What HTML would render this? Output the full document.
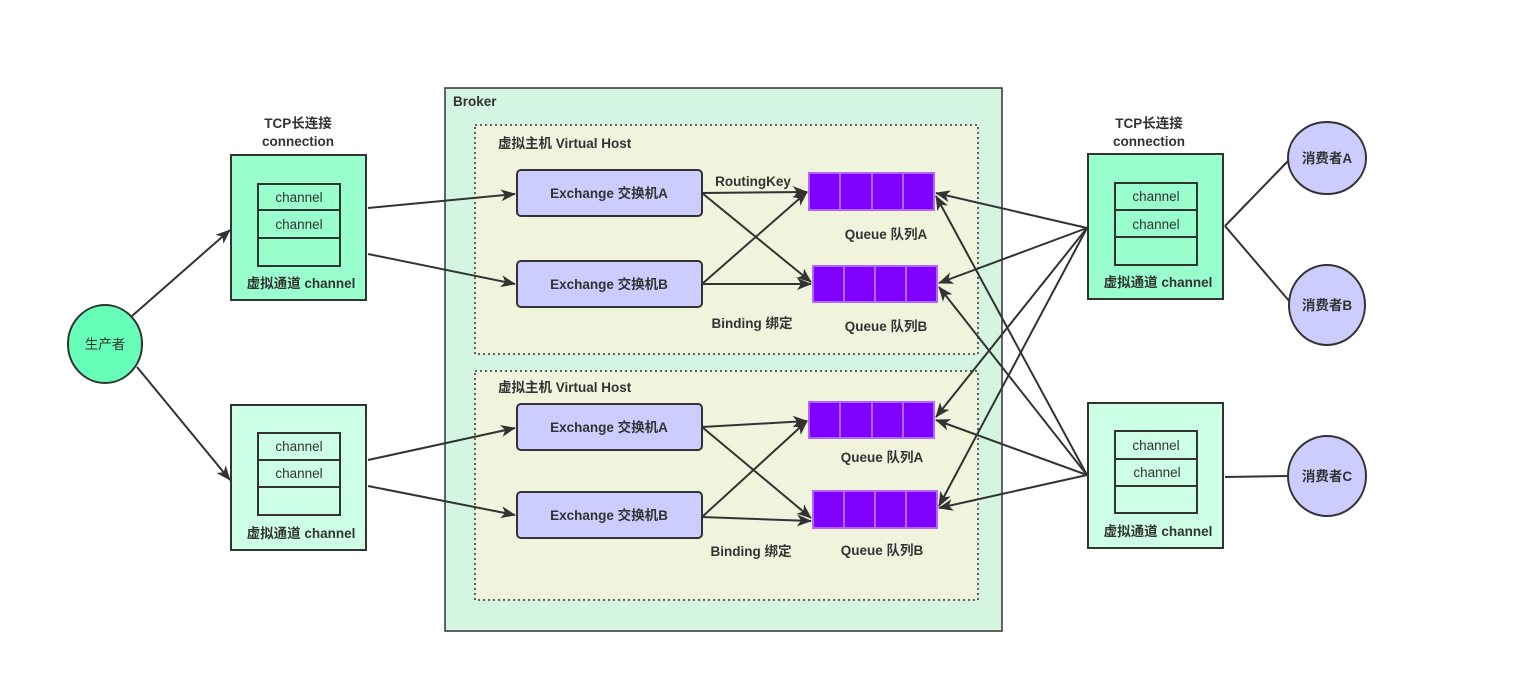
<!DOCTYPE html>
<html><head><meta charset="utf-8"><style>
html,body{margin:0;padding:0;background:#fff;}
svg text{font-family:"Liberation Sans","Noto Sans CJK SC",sans-serif;fill:#333;}
.b{font-weight:bold;font-size:13.5px;}
.n{font-size:13.5px;}
</style></head><body>
<svg width="1521" height="668" viewBox="0 0 1521 668" xmlns="http://www.w3.org/2000/svg">
<defs>
<marker id="ar" markerWidth="15" markerHeight="12" refX="14" refY="6" orient="auto" markerUnits="userSpaceOnUse">
<path d="M0,0 L15,6 L0,12 L4,6 z" fill="#333"/>
</marker>
</defs>
<rect x="445" y="88" width="557" height="543" fill="#d5f5e3" stroke="#333" stroke-width="1.5"/>
<text x="453" y="106" class="b">Broker</text>
<rect x="475" y="125" width="503" height="229" fill="#f0f4dd" stroke="#333" stroke-width="1.5" stroke-dasharray="2,3"/>
<rect x="475" y="371" width="503" height="229" fill="#f0f4dd" stroke="#333" stroke-width="1.5" stroke-dasharray="2,3"/>
<text x="498" y="148" class="b">虚拟主机 Virtual Host</text>
<text x="498" y="392" class="b">虚拟主机 Virtual Host</text>

<ellipse cx="105" cy="344" rx="37" ry="39" fill="#66ffb8" stroke="#333" stroke-width="2"/>
<text x="105" y="349" class="n" text-anchor="middle">生产者</text>
<line x1="132" y1="316" x2="230" y2="230" stroke="#333" stroke-width="2" marker-end="url(#ar)"/>
<line x1="137" y1="367" x2="230" y2="480" stroke="#333" stroke-width="2" marker-end="url(#ar)"/>

<text x="298" y="128" class="b" text-anchor="middle">TCP长连接</text>
<text x="298" y="146" class="b" text-anchor="middle">connection</text>
<rect x="231" y="155" width="135" height="145" fill="#99ffcc" stroke="#333" stroke-width="2"/>
<rect x="258" y="184" width="82" height="82" fill="#99ffcc" stroke="#333" stroke-width="2"/>
<line x1="258" y1="210" x2="340" y2="210" stroke="#333" stroke-width="2"/>
<line x1="258" y1="238" x2="340" y2="238" stroke="#333" stroke-width="2"/>
<text x="299" y="202" class="n" text-anchor="middle">channel</text>
<text x="299" y="229" class="n" text-anchor="middle">channel</text>
<text x="301" y="288" class="b" text-anchor="middle">虚拟通道 channel</text>

<rect x="231" y="405" width="135" height="145" fill="#ccffe6" stroke="#333" stroke-width="2"/>
<rect x="258" y="433" width="82" height="82" fill="#ccffe6" stroke="#333" stroke-width="2"/>
<line x1="258" y1="460" x2="340" y2="460" stroke="#333" stroke-width="2"/>
<line x1="258" y1="487" x2="340" y2="487" stroke="#333" stroke-width="2"/>
<text x="299" y="451" class="n" text-anchor="middle">channel</text>
<text x="299" y="478" class="n" text-anchor="middle">channel</text>
<text x="301" y="538" class="b" text-anchor="middle">虚拟通道 channel</text>

<g stroke="#333" stroke-width="2" fill="none">
<line x1="368" y1="208" x2="515" y2="194" marker-end="url(#ar)"/>
<line x1="368" y1="254" x2="515" y2="284" marker-end="url(#ar)"/>
<line x1="368" y1="460" x2="515" y2="428" marker-end="url(#ar)"/>
<line x1="368" y1="486" x2="515" y2="515" marker-end="url(#ar)"/>
</g>

<g fill="#ccccff" stroke="#333" stroke-width="2">
<rect x="517" y="170" width="185" height="46" rx="4"/>
<rect x="517" y="261" width="185" height="46" rx="4"/>
<rect x="517" y="404" width="185" height="46" rx="4"/>
<rect x="517" y="492" width="185" height="46" rx="4"/>
</g>
<text x="609" y="198" class="b" text-anchor="middle">Exchange 交换机A</text>
<text x="609" y="289" class="b" text-anchor="middle">Exchange 交换机B</text>
<text x="609" y="432" class="b" text-anchor="middle">Exchange 交换机A</text>
<text x="609" y="520" class="b" text-anchor="middle">Exchange 交换机B</text>

<g stroke="#333" stroke-width="2" fill="none">
<line x1="702" y1="193" x2="807" y2="192" marker-end="url(#ar)"/>
<line x1="702" y1="193" x2="811" y2="282" marker-end="url(#ar)"/>
<line x1="702" y1="284" x2="807" y2="192" marker-end="url(#ar)"/>
<line x1="702" y1="284" x2="811" y2="284" marker-end="url(#ar)"/>
<line x1="702" y1="427" x2="807" y2="421" marker-end="url(#ar)"/>
<line x1="702" y1="427" x2="811" y2="518" marker-end="url(#ar)"/>
<line x1="702" y1="517" x2="807" y2="421" marker-end="url(#ar)"/>
<line x1="702" y1="517" x2="811" y2="521" marker-end="url(#ar)"/>
</g>
<text x="753" y="186" class="b" text-anchor="middle">RoutingKey</text>
<text x="752" y="328" class="b" text-anchor="middle">Binding 绑定</text>
<text x="751" y="556" class="b" text-anchor="middle">Binding 绑定</text>

<g fill="#7f00ff" stroke="#b266ff" stroke-width="2">
<rect x="809" y="173" width="125" height="37"/>
<rect x="813" y="266" width="124" height="36"/>
<rect x="809" y="402" width="125" height="36"/>
<rect x="813" y="491" width="124" height="37"/>
</g>
<g stroke="#b266ff" stroke-width="2">
<line x1="840" y1="173" x2="840" y2="210"/><line x1="872" y1="173" x2="872" y2="210"/><line x1="903" y1="173" x2="903" y2="210"/>
<line x1="844" y1="266" x2="844" y2="302"/><line x1="875" y1="266" x2="875" y2="302"/><line x1="906" y1="266" x2="906" y2="302"/>
<line x1="840" y1="402" x2="840" y2="438"/><line x1="872" y1="402" x2="872" y2="438"/><line x1="903" y1="402" x2="903" y2="438"/>
<line x1="844" y1="491" x2="844" y2="528"/><line x1="875" y1="491" x2="875" y2="528"/><line x1="906" y1="491" x2="906" y2="528"/>
</g>
<text x="886" y="239" class="b" text-anchor="middle">Queue 队列A</text>
<text x="886" y="331" class="b" text-anchor="middle">Queue 队列B</text>
<text x="882" y="462" class="b" text-anchor="middle">Queue 队列A</text>
<text x="882" y="555" class="b" text-anchor="middle">Queue 队列B</text>

<g stroke="#333" stroke-width="2" fill="none">
<line x1="1087" y1="228" x2="936" y2="193" marker-end="url(#ar)"/>
<line x1="1087" y1="228" x2="939" y2="283" marker-end="url(#ar)"/>
<line x1="1087" y1="228" x2="936" y2="417" marker-end="url(#ar)"/>
<line x1="1087" y1="228" x2="939" y2="506" marker-end="url(#ar)"/>
<line x1="1087" y1="475" x2="936" y2="196" marker-end="url(#ar)"/>
<line x1="1087" y1="475" x2="939" y2="287" marker-end="url(#ar)"/>
<line x1="1087" y1="475" x2="936" y2="420" marker-end="url(#ar)"/>
<line x1="1087" y1="475" x2="939" y2="508" marker-end="url(#ar)"/>
</g>

<text x="1149" y="128" class="b" text-anchor="middle">TCP长连接</text>
<text x="1149" y="146" class="b" text-anchor="middle">connection</text>
<rect x="1088" y="154" width="135" height="145" fill="#99ffcc" stroke="#333" stroke-width="2"/>
<rect x="1115" y="183" width="82" height="82" fill="#99ffcc" stroke="#333" stroke-width="2"/>
<line x1="1115" y1="210" x2="1197" y2="210" stroke="#333" stroke-width="2"/>
<line x1="1115" y1="237" x2="1197" y2="237" stroke="#333" stroke-width="2"/>
<text x="1156" y="201" class="n" text-anchor="middle">channel</text>
<text x="1156" y="229" class="n" text-anchor="middle">channel</text>
<text x="1158" y="287" class="b" text-anchor="middle">虚拟通道 channel</text>

<rect x="1088" y="403" width="135" height="145" fill="#ccffe6" stroke="#333" stroke-width="2"/>
<rect x="1115" y="431" width="82" height="82" fill="#ccffe6" stroke="#333" stroke-width="2"/>
<line x1="1115" y1="459" x2="1197" y2="459" stroke="#333" stroke-width="2"/>
<line x1="1115" y1="486" x2="1197" y2="486" stroke="#333" stroke-width="2"/>
<text x="1156" y="450" class="n" text-anchor="middle">channel</text>
<text x="1157" y="477" class="n" text-anchor="middle">channel</text>
<text x="1158" y="536" class="b" text-anchor="middle">虚拟通道 channel</text>

<g stroke="#333" stroke-width="2">
<line x1="1225" y1="226" x2="1288" y2="161"/>
<line x1="1225" y1="226" x2="1290" y2="302"/>
<line x1="1225" y1="477" x2="1288" y2="476"/>
</g>
<g fill="#ccccff" stroke="#333" stroke-width="2">
<ellipse cx="1327" cy="158" rx="39" ry="36"/>
<ellipse cx="1327" cy="305" rx="38" ry="40"/>
<ellipse cx="1327" cy="476" rx="39" ry="40"/>
</g>
<text x="1327" y="163" class="b" text-anchor="middle">消费者A</text>
<text x="1327" y="310" class="b" text-anchor="middle">消费者B</text>
<text x="1327" y="481" class="b" text-anchor="middle">消费者C</text>
</svg>
</body></html>
